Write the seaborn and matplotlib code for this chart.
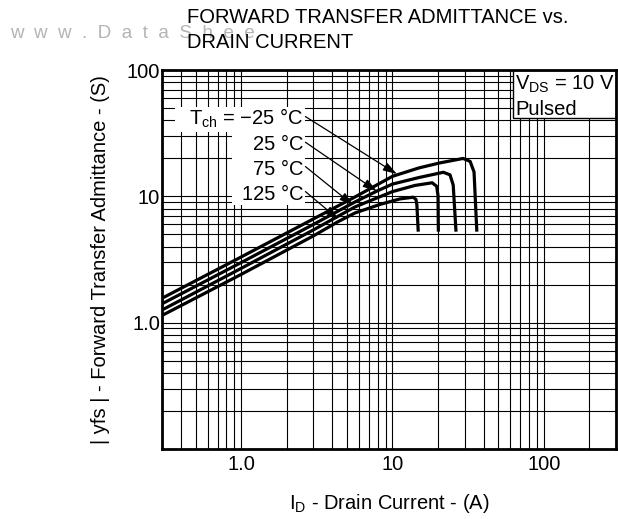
import numpy as np
import pandas as pd
import matplotlib
matplotlib.use("Agg")
import matplotlib.pyplot as plt
import seaborn as sns
from matplotlib.ticker import LogLocator, NullFormatter
from matplotlib.patches import Rectangle

# ---------------- data ----------------
id_m25 = [0.3, 1.0, 3.0, 5.66, 10, 15, 20.6, 29.3, 32.6, 34.6, 36.1]
yfs_m25 = [1.56, 3.31, 6.62, 9.89, 14.4, 16.8, 18.4, 19.95, 18.9, 15.6, 5.25]

id_25 = [0.3, 1.0, 3.0, 5.66, 7.88, 10, 15, 21.7, 24.0, 25.2, 26.3]
yfs_25 = [1.41, 2.99, 5.99, 9.03, 11.0, 12.5, 14.1, 15.5, 14.8, 12.3, 5.25]

id_75 = [0.3, 1.0, 3.0, 5.66, 10, 14.1, 18.3, 19.6, 20.0, 20.1]
yfs_75 = [1.26, 2.69, 5.42, 8.25, 10.9, 12.2, 12.8, 12.0, 10.1, 5.25]

id_125 = [0.3, 1.0, 3.0, 4.37, 5.66, 8.28, 11.2, 13.7, 14.3, 14.5, 14.8]
yfs_125 = [1.14, 2.41, 4.86, 6.3, 7.39, 8.63, 9.54, 9.84, 9.45, 8.55, 5.25]

series_names = ["-25", "25", "75", "125"]
temp_labels = ["T$_{\\rm ch}$ = \u221225 \u00b0C", "25 \u00b0C", "75 \u00b0C", "125 \u00b0C"]
label_anchor_y = [36.8, 23.3, 14.8, 9.36]      # baselines of the labels (data units)
arrow_start_y = [42.8, 26.8, 17.2, 10.9]
arrow_tip_x = [10.7, 7.87, 5.51, 4.39]
arrow_tip_y = [15.0, 11.0, 8.5, 6.6]

x_major = [1, 10, 100]
x_tick_labels = ["1.0", "10", "100"]
y_major = [1, 10, 100]
y_tick_labels = ["1.0", "10", "100"]

title_lines = ["FORWARD TRANSFER ADMITTANCE vs.", "DRAIN CURRENT"]
watermark = "w  w  w  .  D  a  t  a  S  h  e  e"

# ---------------- style ----------------
sns.set_theme(style="white")
plt.rcParams["font.family"] = ["Liberation Sans", "DejaVu Sans"]
plt.rcParams["mathtext.fontset"] = "custom"
plt.rcParams["mathtext.rm"] = "Liberation Sans"
plt.rcParams["mathtext.it"] = "Liberation Sans:italic"
plt.rcParams["mathtext.bf"] = "Liberation Sans:bold"
plt.rcParams["text.color"] = "black"
plt.rcParams["axes.labelcolor"] = "black"
plt.rcParams["xtick.color"] = "black"
plt.rcParams["ytick.color"] = "black"

FS = 14.5
W, H = 618, 519
fig = plt.figure(figsize=(W / 100, H / 100), dpi=100)
ax = fig.add_axes([162 / W, 70 / H, 454 / W, 379 / H])

frames = []
for name, xs, ys in zip(series_names,
                        [id_m25, id_25, id_75, id_125],
                        [yfs_m25, yfs_25, yfs_75, yfs_125]):
    frames.append(pd.DataFrame({"id": xs, "yfs": ys, "series": name}))
df = pd.concat(frames, ignore_index=True)

sns.lineplot(data=df, x="id", y="yfs", hue="series", estimator=None, sort=False,
             palette={n: "black" for n in series_names}, legend=False,
             linewidth=2.3, ax=ax, zorder=3, solid_joinstyle="round",
             solid_capstyle="butt")

ax.set_xscale("log")
ax.set_yscale("log")
ax.set_xlim(0.3, 300)
ax.set_ylim(0.1, 100)

ax.set_xticks(x_major)
ax.set_xticklabels(x_tick_labels)
ax.set_yticks(y_major)
ax.set_yticklabels(y_tick_labels)
ax.xaxis.set_minor_locator(LogLocator(base=10, subs=np.arange(2, 10), numticks=30))
ax.yaxis.set_minor_locator(LogLocator(base=10, subs=np.arange(2, 10), numticks=30))
ax.xaxis.set_minor_formatter(NullFormatter())
ax.yaxis.set_minor_formatter(NullFormatter())
ax.tick_params(which="both", length=0)
ax.tick_params(axis="x", labelsize=FS, pad=4.5)
ax.tick_params(axis="y", labelsize=FS, pad=1.5)

ax.set_axisbelow(True)
ax.grid(True, which="both", color="black", linewidth=0.8)
for s in ax.spines.values():
    s.set_visible(True)
    s.set_color("black")
    s.set_linewidth(2.0)

ax.set_xlabel("I$_{\\rm D}$ - Drain Current - (A)", fontsize=FS, labelpad=13)
ax.set_ylabel("| yfs | - Forward Transfer Admittance - (S)", fontsize=FS, labelpad=12)

# white areas behind the temperature labels
ax.add_patch(Rectangle((0.0286, 0.8356), 0.2864, 0.0676, transform=ax.transAxes,
                       facecolor="white", edgecolor="none", zorder=1.5))
ax.add_patch(Rectangle((0.1535, 0.6438), 0.1615, 0.1918, transform=ax.transAxes,
                       facecolor="white", edgecolor="none", zorder=1.5))

label_right_x = 2.58
arrow_start_x = 2.66
for lab, ly, sy, tx, ty in zip(temp_labels, label_anchor_y, arrow_start_y,
                               arrow_tip_x, arrow_tip_y):
    ax.text(label_right_x, ly, lab, ha="right", va="baseline", fontsize=FS, zorder=4)
    ax.annotate("", xy=(tx, ty), xytext=(arrow_start_x, sy),
                arrowprops=dict(arrowstyle="-|>,head_length=0.7,head_width=0.22",
                                color="black", lw=0.9, shrinkA=0, shrinkB=0,
                                mutation_scale=12),
                zorder=4)

# V_DS box
ax.add_patch(Rectangle((0.7738, 0.8726), 1 - 0.7738, 1 - 0.8726, transform=ax.transAxes,
                       facecolor="white", edgecolor="black", linewidth=1.0, zorder=1.5))
ax.text(0.7775, 0.9472, "V$_{\\rm DS}$ = 10 V", transform=ax.transAxes,
        ha="left", va="baseline", fontsize=FS, zorder=4)
ax.text(0.7775, 0.8813, "Pulsed", transform=ax.transAxes,
        ha="left", va="baseline", fontsize=FS, zorder=4)

# watermark (behind the title)
fig.text(10 / W, 1 - 38 / H, watermark, ha="left", va="baseline",
         fontsize=13.5, color="#b4b4b4", zorder=1)

# title
fig.text(187 / W, 1 - 23 / H, title_lines[0], ha="left", va="baseline",
         fontsize=FS, color="black", zorder=5)
fig.text(187 / W, 1 - 48 / H, title_lines[1], ha="left", va="baseline",
         fontsize=FS, color="black", zorder=5)

fig.savefig("out.png", dpi=100, facecolor="white")
